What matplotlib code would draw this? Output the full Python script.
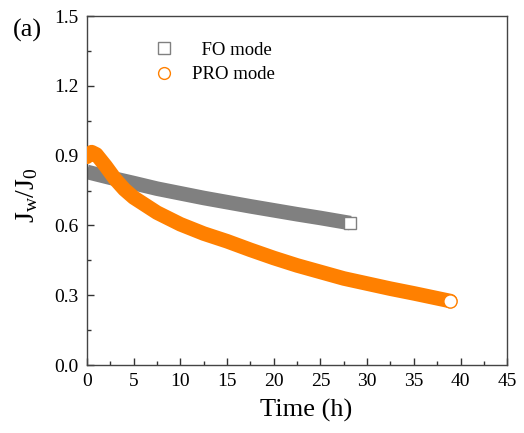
import matplotlib
matplotlib.use('Agg')
import matplotlib.pyplot as plt
from matplotlib.ticker import MultipleLocator, FormatStrFormatter
from matplotlib.lines import Line2D

plt.rcParams['font.family'] = 'Liberation Serif'
plt.rcParams['mathtext.fontset'] = 'custom'
plt.rcParams['mathtext.rm'] = 'Liberation Serif'
plt.rcParams['mathtext.it'] = 'Liberation Serif'

# FO mode: normalized flux vs time
fo_time = [0, 2.5, 5, 7.5, 10, 12.5, 15, 17.5, 20, 22.5, 25, 28.2]
fo_flux = [0.83, 0.805, 0.782, 0.758, 0.738, 0.718, 0.70, 0.682, 0.665, 0.648, 0.632, 0.61]

# PRO mode
pro_time = [0, 0.5, 1, 1.5, 2, 3, 4, 5, 7.5, 10, 12.5, 15, 17.5, 20, 22.5, 25, 27.5, 30, 32.5, 35, 38.9]
pro_flux = [0.895, 0.915, 0.905, 0.88, 0.855, 0.80, 0.755, 0.72, 0.655, 0.605, 0.565, 0.532, 0.495, 0.46, 0.428, 0.40, 0.372, 0.35, 0.328, 0.308, 0.275]

GRAY = '#808080'
ORANGE = '#FF8000'

fig = plt.figure(figsize=(5.24, 4.33), dpi=100)
ax = fig.add_axes([0.166, 0.157, 0.802, 0.806])

ax.plot(fo_time, fo_flux, color=GRAY, lw=10.5, solid_capstyle='butt', solid_joinstyle='round', zorder=2)
ax.plot(fo_time[-1:], fo_flux[-1:], ls='none', marker='s', ms=8.7, mfc='white', mec=GRAY, mew=1.0, zorder=3)

ax.plot(pro_time, pro_flux, color=ORANGE, lw=10.5, solid_capstyle='round', solid_joinstyle='round', zorder=4)
ax.plot(pro_time[-1:], pro_flux[-1:], ls='none', marker='o', ms=9.5, mfc='white', mec=ORANGE, mew=1.0, zorder=5)

ax.set_xlim(0, 45)
ax.set_ylim(0, 1.5)
ax.xaxis.set_major_locator(MultipleLocator(5))
ax.xaxis.set_minor_locator(MultipleLocator(2.5))
ax.yaxis.set_major_locator(MultipleLocator(0.3))
ax.yaxis.set_minor_locator(MultipleLocator(0.15))
ax.yaxis.set_major_formatter(FormatStrFormatter('%.1f'))
ax.tick_params(which='both', direction='in', top=False, right=False, labelsize=14, color='#333333')
ax.tick_params(which='major', length=5, width=1, pad=6)
ax.tick_params(which='minor', length=3, width=1)
for s in ax.spines.values():
    s.set_color('#444444')
    s.set_linewidth(1.0)

ax.set_xlabel('Time (h)', fontsize=19, labelpad=6)
ax.xaxis.label.set_x(0.521)
ax.set_ylabel(r'J$_\mathregular{w}$/J$_\mathregular{0}$', fontsize=20, labelpad=10)
ax.yaxis.label.set_y(0.486)

handles = [
    Line2D([], [], ls='none', marker='s', ms=8, mfc='none', mec=GRAY, mew=1.0, label='  FO mode'),
    Line2D([], [], ls='none', marker='o', ms=8.5, mfc='none', mec=ORANGE, mew=1.0, label='PRO mode'),
]
ax.legend(handles=handles, loc='upper left', bbox_to_anchor=(0.12, 0.975), frameon=False,
          fontsize=13.5, handletextpad=1.0, labelspacing=0.4, handlelength=1.0)

fig.text(0.052, 0.93, '(a)', fontsize=19, ha='center', va='center')

fig.savefig('out.png', dpi=100)
